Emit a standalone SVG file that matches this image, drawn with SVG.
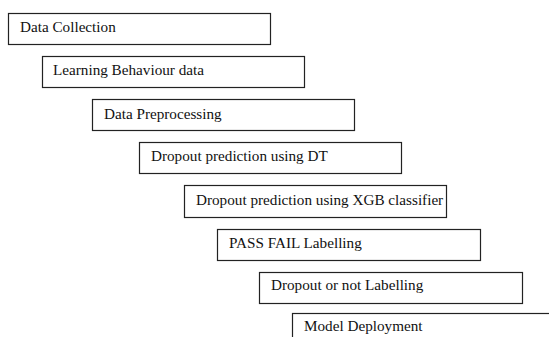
<svg xmlns="http://www.w3.org/2000/svg" width="549" height="337" viewBox="0 0 549 337">
<style>
.b{fill:#fff;stroke:#222;stroke-width:1.2}
.t{font-family:"Liberation Serif","Times New Roman",serif;font-size:15.2px;fill:#111}
</style>
<rect width="549" height="337" fill="#fff"/>
<g id="n1"><rect class="b" x="8.5" y="13.5" width="262" height="31"/><text class="t" x="20" y="32">Data Collection</text></g>
<g id="n2"><rect class="b" x="42.5" y="56.5" width="262" height="31"/><text class="t" x="53" y="75">Learning Behaviour data</text></g>
<g id="n3"><rect class="b" x="92.5" y="99.5" width="262" height="31"/><text class="t" x="104" y="119">Data Preprocessing</text></g>
<g id="n4"><rect class="b" x="139.5" y="142.5" width="262" height="31"/><text class="t" x="151" y="161">Dropout prediction using DT</text></g>
<g id="n5"><rect class="b" x="184.5" y="185.5" width="262" height="32"/><text class="t" x="196" y="205">Dropout prediction using XGB classifier</text></g>
<g id="n6"><rect class="b" x="217.5" y="229.5" width="263" height="31"/><text class="t" x="229" y="248">PASS FAIL Labelling</text></g>
<g id="n7"><rect class="b" x="259.5" y="272.5" width="263" height="31"/><text class="t" x="271" y="290">Dropout or not Labelling</text></g>
<g id="n8"><rect class="b" x="292.5" y="313.5" width="263" height="31"/><text class="t" x="304" y="331">Model Deployment</text></g>
<g id="connectors"></g>
</svg>
